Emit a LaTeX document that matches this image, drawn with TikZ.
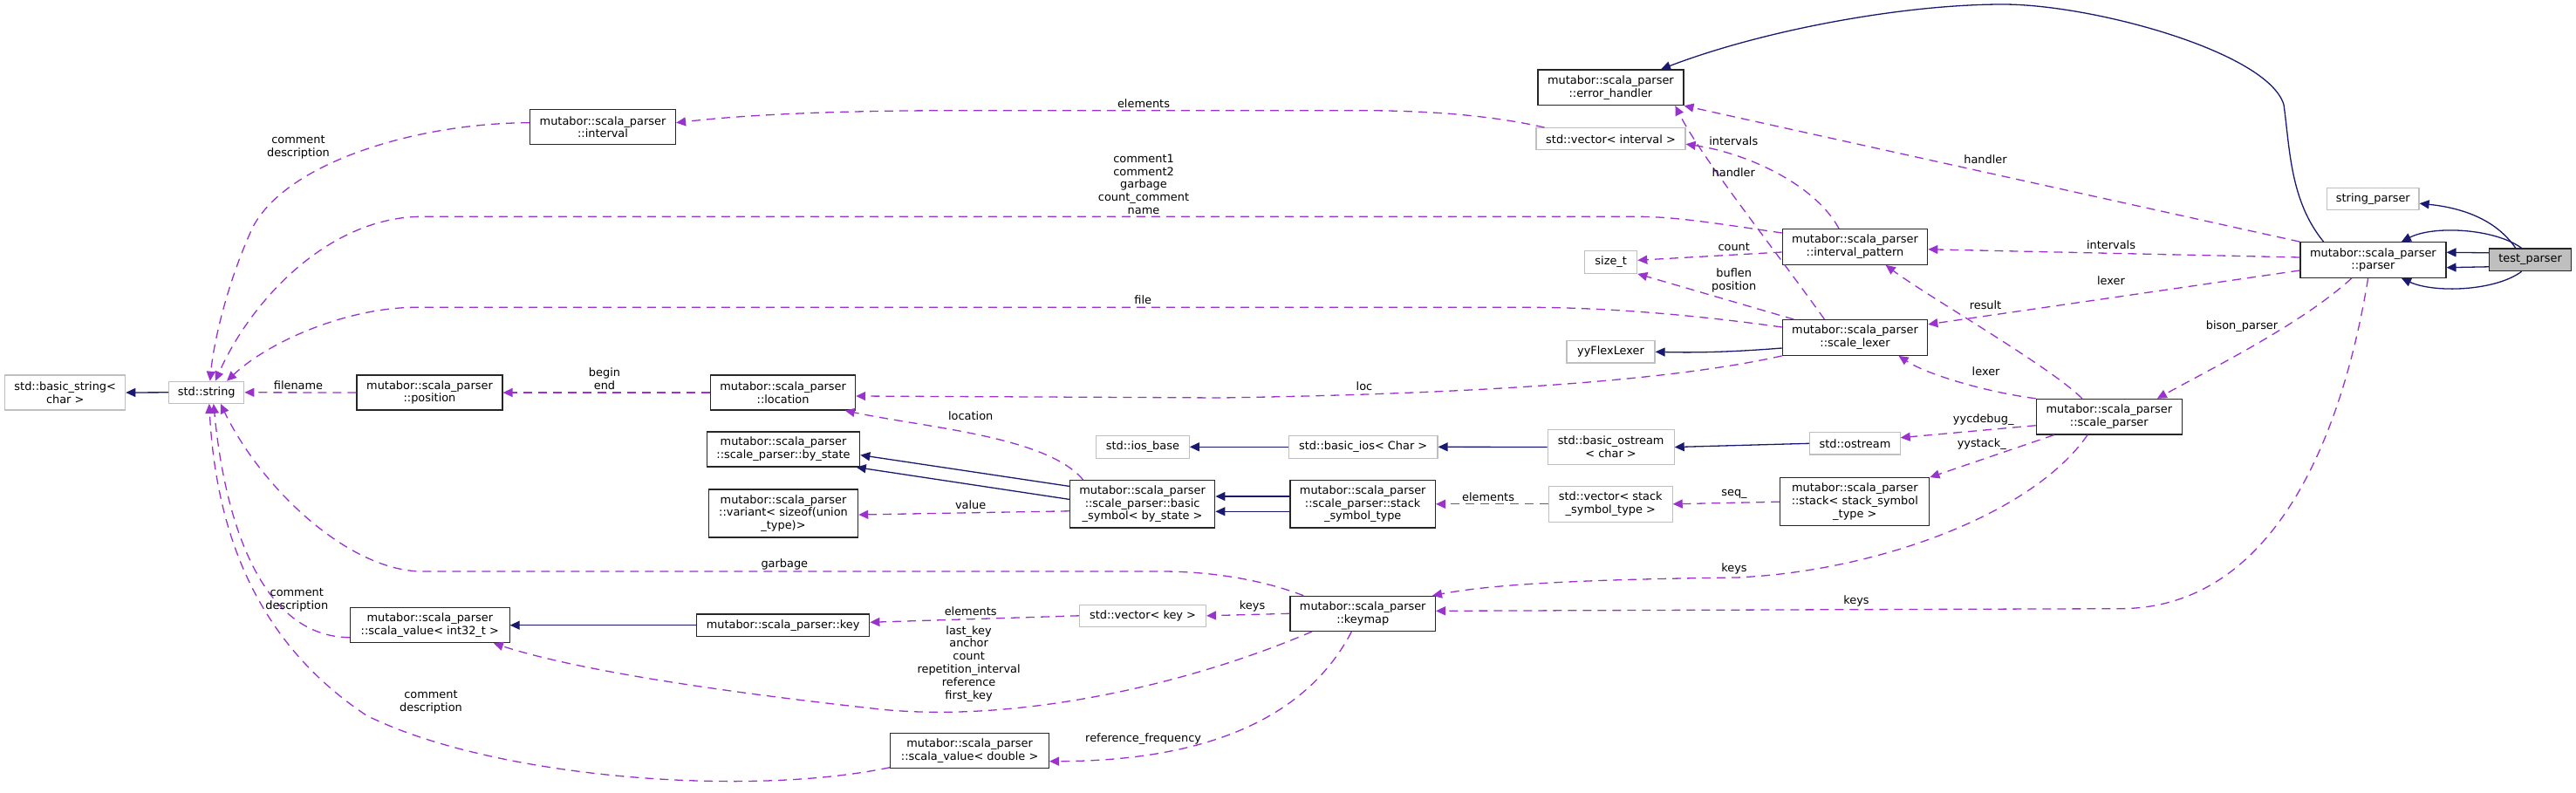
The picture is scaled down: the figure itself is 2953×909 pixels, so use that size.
\documentclass[tikz,border=0pt]{standalone}
\usepackage{fontspec}
\setmainfont{DejaVu Sans}
\usetikzlibrary{arrows.meta}
\definecolor{depc}{HTML}{9A32CD}
\definecolor{inhc}{HTML}{191970}
\definecolor{grayb}{HTML}{BFBFBF}
\begin{document}
\begin{tikzpicture}[x=0.5pt, y=-0.5pt,
  every node/.style={font=\fontsize{6.45}{7.4}\selectfont},
  cls/.style={draw=black!85, line width=0.6pt, fill=white, align=center, inner sep=0pt},
  ext/.style={cls, draw=grayb},
  dep/.style={draw=depc, line width=0.65pt, dash pattern=on 5pt off 3.5pt, -{Triangle[length=5.5pt,width=5pt]}},
  inh/.style={draw=inhc, line width=0.65pt, -{Triangle[length=5.5pt,width=5pt]}},
  lbl/.style={inner sep=0pt, align=center}]
\fill[white] (0,0) rectangle (2953,909);
\useasboundingbox (0,0) rectangle (2953,909);

% nodes
\node[ext, minimum width=69pt, minimum height=20pt] (bstr) at (74.7,450) {std::basic\_string<\\char >};
\node[ext, minimum width=43pt, minimum height=12.5pt] (str) at (236.8,449.8) {std::string};
\node[cls, minimum width=83.5pt, minimum height=20pt] (pos) at (492.5,450) {mutabor::scala\_parser\\::position};
\node[cls, minimum width=83.5pt, minimum height=20pt] (intv) at (691,145.7) {mutabor::scala\_parser\\::interval};
\node[cls, minimum width=83pt, minimum height=20pt] (loc) at (897.6,450) {mutabor::scala\_parser\\::location};
\node[cls, minimum width=87.7pt, minimum height=20pt] (bystate) at (898,515) {mutabor::scala\_parser\\::scale\_parser::by\_state};
\node[cls, minimum width=85.6pt, minimum height=27.5pt] (variant) at (898,588.5) {mutabor::scala\_parser\\::variant< sizeof(union\\\_type)>};
\node[cls, minimum width=83.2pt, minimum height=27.2pt] (bsym) at (1309.6,577.8) {mutabor::scala\_parser\\::scale\_parser::basic\\\_symbol< by\_state >};
\node[ext, minimum width=53.3pt, minimum height=13pt] (iosbase) at (1309.9,512.3) {std::ios\_base};
\node[ext, minimum width=85.3pt, minimum height=13pt] (basicios) at (1562.7,512.3) {std::basic\_ios< Char >};
\node[cls, minimum width=83.2pt, minimum height=27.2pt] (sst) at (1562.2,577.8) {mutabor::scala\_parser\\::scale\_parser::stack\\\_symbol\_type};
\node[ext, minimum width=72.5pt, minimum height=20.2pt] (bostream) at (1846.6,512.5) {std::basic\_ostream\\< char >};
\node[ext, minimum width=70.8pt, minimum height=20.5pt] (vecsst) at (1846.3,577.8) {std::vector< stack\\\_symbol\_type >};
\node[ext, minimum width=51.7pt, minimum height=12.7pt] (ostream) at (2126.4,508.3) {std::ostream};
\node[cls, minimum width=85.5pt, minimum height=27.5pt] (stack) at (2126.3,575.2) {mutabor::scala\_parser\\::stack< stack\_symbol\\\_type >};
\node[cls, minimum width=83.5pt, minimum height=20.3pt] (sparser) at (2417.8,477.7) {mutabor::scala\_parser\\::scale\_parser};
\node[cls, minimum width=83.2pt, minimum height=20.3pt] (slexer) at (2126.5,387) {mutabor::scala\_parser\\::scale\_lexer};
\node[cls, minimum width=83.2pt, minimum height=20.3pt] (ipat) at (2126.5,283) {mutabor::scala\_parser\\::interval\_pattern};
\node[ext, minimum width=50.5pt, minimum height=12.7pt] (flex) at (1846.5,403.3) {yyFlexLexer};
\node[ext, minimum width=30pt, minimum height=13pt] (sizet) at (1846.7,300.3) {size\_t};
\node[ext, minimum width=85.5pt, minimum height=12.5pt] (vecint) at (1846.5,159.2) {std::vector< interval >};
\node[cls, minimum width=83.5pt, minimum height=20.3pt] (err) at (1846.4,100.3) {mutabor::scala\_parser\\::error\_handler};
\node[ext, minimum width=52.7pt, minimum height=12.5pt] (sparse) at (2720.3,228.2) {string\_parser};
\node[cls, minimum width=83.5pt, minimum height=20.3pt] (parser) at (2720.4,298) {mutabor::scala\_parser\\::parser};
\node[cls, fill=grayb, minimum width=47pt, minimum height=12.8pt] (test) at (2900.6,297.8) {test\_parser};
\node[cls, minimum width=83.2pt, minimum height=20pt] (keymap) at (1562.2,703.3) {mutabor::scala\_parser\\::keymap};
\node[ext, minimum width=72.5pt, minimum height=12.5pt] (veckey) at (1310,705.8) {std::vector< key >};
\node[cls, minimum width=99.2pt, minimum height=12.7pt] (key) at (897.6,716.7) {mutabor::scala\_parser::key};
\node[cls, minimum width=91.3pt, minimum height=20pt] (sv32) at (492.8,716.7) {mutabor::scala\_parser\\::scala\_value< int32\_t >};
\node[cls, minimum width=90.8pt, minimum height=20pt] (svd) at (1111.6,860.7) {mutabor::scala\_parser\\::scala\_value< double >};

% inheritance edges
\draw[inh] (str.west) -- (bstr.east);
\draw[inh] (key.west) -- (sv32.east);
\draw[inh] ([yshift=10.2pt]bsym.west) -- ([yshift=-3.3pt]bystate.east);
\draw[inh] ([yshift=2.7pt]bsym.west) -- ([xshift=-2.3pt]bystate.south east);
\draw[inh] ([yshift=4.4pt]sst.west) -- ([yshift=4.4pt]bsym.east);
\draw[inh] ([yshift=-4.25pt]sst.west) -- ([yshift=-4.25pt]bsym.east);
\draw[inh] (basicios.west) -- (iosbase.east);
\draw[inh] (bostream.west) -- (basicios.east);
\draw[inh] (ostream.west) -- (bostream.east);
\draw[inh] ([yshift=-6pt]slexer.west) .. controls (1980,404) and (1940,404.3) .. (flex.east);
\draw[inh] ([xshift=-28.4pt]parser.north) .. controls (2625,230) and (2625,170) .. (2618,120)
  .. controls (2600,60) and (2400,5) .. (2296,5)
  .. controls (2180,5) and (2020,35) .. ([xshift=-13.25pt]err.north east);
\draw[inh] ([xshift=-8.4pt]test.north) .. controls (2860,250) and (2820,238) .. ([yshift=-2.5pt]sparse.east);
\draw[inh] ([xshift=-5pt]test.north) .. controls (2860,262) and (2790,258) .. ([xshift=16.25pt]parser.north);
\draw[inh] ([yshift=4pt]test.west) -- ([yshift=4.35pt]parser.east);
\draw[inh] ([yshift=-4pt]test.west) -- ([yshift=-4.35pt]parser.east);
\draw[inh] ([xshift=-5pt]test.south) .. controls (2860,334) and (2790,336) .. ([xshift=16.25pt]parser.south);

% usage edges
\draw[dep] (pos.west) -- (str.east);
\draw[dep] (loc.west) -- (pos.east);
\draw[dep] ([yshift=2.5pt]intv.west) .. controls (480,141) and (330,185) .. (290,260)
  .. controls (262,320) and (245,390) .. ([xshift=2pt]str.north);
\draw[dep] ([yshift=8pt]ipat.west) .. controls (1960,255) and (1920,248.3) .. (1875,248.3) -- (484,248.3)
  .. controls (380,248.3) and (290,340) .. ([xshift=5pt]str.north);
\draw[dep] ([yshift=6pt]slexer.west) .. controls (1900,355) and (1800,352.3) .. (1750,352.3) -- (477,352.3)
  .. controls (400,352.3) and (310,390) .. ([xshift=11.6pt]str.north);
\draw[dep] ([xshift=-34pt]keymap.north) .. controls (1440,662) and (1380,655) .. (1331,655) -- (484.7,655)
  .. controls (400,655) and (300,560) .. ([xshift=8pt]str.south);
\draw[dep] ([yshift=-7pt]sv32.west) .. controls (300,730) and (258,600) .. ([xshift=4pt]str.south);
\draw[dep] ([yshift=-9.5pt]svd.west) .. controls (850,915) and (560,890) .. (420,820)
  .. controls (300,740) and (248,620) .. ([xshift=1.5pt]str.south);
\draw[dep] (veckey.west) -- ([yshift=1.7pt]key.east);
\draw[dep] (keymap.west) -- (veckey.east);
\draw[dep] ([xshift=-29pt]keymap.south) .. controls (1350,790) and (1150,830) .. (1000,812)
  .. controls (800,790) and (650,765) .. ([xshift=36.5pt]sv32.south);
\draw[dep] ([xshift=-6.4pt]keymap.south) .. controls (1510,800) and (1420,872) .. ([yshift=-6pt]svd.east);
\draw[dep] ([xshift=-34pt]bsym.north) .. controls (1200,500) and (1060,490) .. ([xshift=35.6pt]loc.south);
\draw[dep] ([yshift=-4pt]bsym.west) -- ([yshift=-0.75pt]variant.east);
\draw[dep] (vecsst.west) -- (sst.east);
\draw[dep] (stack.west) -- (vecsst.east);
\draw[dep] ([yshift=-5pt]sparser.west) -- ([yshift=3.3pt]ostream.east);
\draw[dep] ([xshift=-31.6pt]sparser.south) -- (stack.north east);
\draw[dep] ([xshift=-12.4pt]sparser.south) .. controls (2330,590) and (2150,655) .. (1991,662)
  .. controls (1840,664) and (1720,668) .. ([xshift=-2pt]keymap.north east);
\draw[dep] ([xshift=-2.9pt]parser.south) .. controls (2690,470) and (2620,697.7) .. (2430,697.7)
  -- ([yshift=1.5pt]keymap.east);
\draw[dep] ([xshift=-12.3pt]parser.south) .. controls (2640,370) and (2540,420) .. ([xshift=27.5pt]sparser.north);
\draw[dep] ([yshift=-6pt]parser.west) -- ([yshift=7.6pt]slexer.east);
\draw[dep] ([yshift=1.5pt]parser.west) -- ([yshift=-1.4pt]ipat.east);
\draw[dep] (parser.north west) -- (err.south east);
\draw[dep] ([xshift=-17.5pt]slexer.north) .. controls (2030,280) and (1950,180) .. ([xshift=37pt]err.south);
\draw[dep] ([xshift=-9.2pt]ipat.north) .. controls (2080,210) and (2000,175) .. ([yshift=-3pt]vecint.east);
\draw[dep] ([xshift=-38pt]vecint.north) .. controls (1700,130) and (1620,126.7) .. (1560,126.7) -- (1100,126.7)
  .. controls (950,126.7) and (850,132) .. ([yshift=2.5pt]intv.east);
\draw[dep] ([yshift=-3pt]ipat.west) -- ([yshift=1pt]sizet.east);
\draw[dep] ([xshift=-35pt]slexer.north) -- (sizet.south east);
\draw[dep] (slexer.south west) .. controls (1900,440) and (1650,452) .. (1400,456) -- ([yshift=-2pt]loc.east);
\draw[dep] (sparser.north west) .. controls (2280,450) and (2210,430) .. ([xshift=25pt]slexer.south);
\draw[dep] ([xshift=-15.5pt]sparser.north) .. controls (2350,420) and (2210,340) .. ([xshift=17.6pt]ipat.south);

% labels
\node[lbl] (l1) at (342,441.7) {filename};
\node[lbl] (l2) at (693,434.2) {begin\\end};
\node[lbl] (l3) at (342,169.2) {comment\\description};
\node[lbl] (l4) at (1311,211.2) {comment1\\comment2\\garbage\\count\_comment\\name};
\node[lbl] (l5) at (1310.3,344) {file};
\node[lbl] (l6) at (899.3,646.7) {garbage};
\node[lbl] (l7) at (340.3,688) {comment\\description};
\node[lbl] (l8) at (494,805.2) {comment\\description};
\node[lbl] (l9) at (1112.7,700.7) {elements};
\node[lbl] (l10) at (1435.6,695) {keys};
\node[lbl] (l11) at (1110.6,760.7) {last\_key\\anchor\\count\\repetition\_interval\\reference\\first\_key};
\node[lbl] (l12) at (1310.6,846.7) {reference\_frequency};
\node[lbl] (l13) at (1112.7,476.7) {location};
\node[lbl] (l14) at (1112.7,578.3) {value};
\node[lbl] (l15) at (1706,569.3) {elements};
\node[lbl] (l16) at (1988,566.7) {seq\_};
\node[lbl] (l17) at (2273.7,481) {yycdebug\_};
\node[lbl] (l18) at (2271.7,509.3) {yystack\_};
\node[lbl] (l19) at (1988,652.3) {keys};
\node[lbl] (l20) at (2128,689.3) {keys};
\node[lbl] (l21) at (2570,374) {bison\_parser};
\node[lbl] (l22) at (2420,321.7) {lexer};
\node[lbl] (l23) at (2420,280.7) {intervals};
\node[lbl] (l24) at (2276,182.3) {handler};
\node[lbl] (l25) at (1987.3,197.3) {handler};
\node[lbl] (l26) at (1987.3,161.7) {intervals};
\node[lbl] (l27) at (1311,118.3) {elements};
\node[lbl] (l28) at (1987.7,282.7) {count};
\node[lbl] (l29) at (1987.7,321.2) {buflen\\position};
\node[lbl] (l30) at (1564,442.7) {loc};
\node[lbl] (l31) at (2276.6,425.7) {lexer};
\node[lbl] (l32) at (2276,349.3) {result};
\end{tikzpicture}
\end{document}
